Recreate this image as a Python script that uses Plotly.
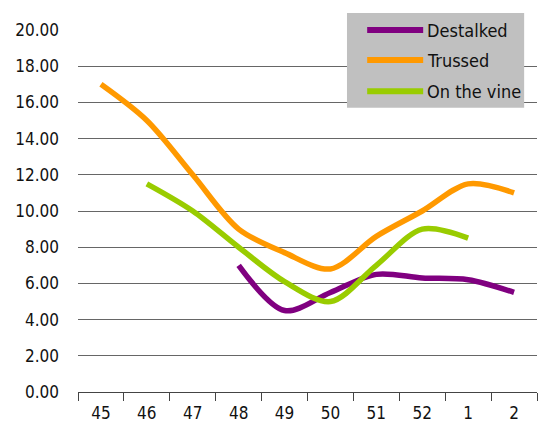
import plotly.graph_objects as go

weeks = ["45", "46", "47", "48", "49", "50", "51", "52", "1", "2"]
destalked = [None, None, None, 7.0, 4.5, 5.5, 6.5, 6.3, 6.2, 5.5]
trussed = [17.0, 15.0, 12.0, 9.0, 7.7, 6.8, 8.6, 10.0, 11.5, 11.0]
on_the_vine = [None, 11.5, 10.0, 8.0, 6.1, 5.0, 7.0, 9.0, 8.5, None]

series = [
    ("Destalked", destalked, "#800080"),
    ("Trussed", trussed, "#FF9900"),
    ("On the vine", on_the_vine, "#99CC00"),
]

font_family = "DejaVu Sans Condensed, Liberation Sans Narrow, sans-serif"

fig = go.Figure()
for name, values, color in series:
    fig.add_trace(go.Scatter(
        x=weeks, y=values, name=name, mode="lines",
        line=dict(color=color, width=5.5, shape="spline", smoothing=0.9),
        connectgaps=False, showlegend=False,
    ))

# Legend panel drawn in paper coordinates (grey box, line swatches, labels)
box = dict(x0=0.586, x1=0.972, y0=0.785, y1=1.047)
fig.add_shape(type="rect", xref="paper", yref="paper", layer="above",
              fillcolor="#C0C0C0", line=dict(width=0), **box)
row_y = [1.0, 0.917, 0.831]
for (name, _, color), yy in zip(series, row_y):
    fig.add_shape(type="line", xref="paper", yref="paper", layer="above",
                  x0=0.630, x1=0.752, y0=yy, y1=yy,
                  line=dict(color=color, width=6))
    fig.add_annotation(xref="paper", yref="paper", x=0.756, y=yy,
                       text=name, showarrow=False, xanchor="left",
                       yanchor="middle",
                       font=dict(family=font_family, size=18, color="#111"))

fig.update_layout(
    width=544, height=428,
    margin=dict(l=78, r=7, t=30, b=36),
    paper_bgcolor="white", plot_bgcolor="white",
    font=dict(family=font_family, size=16, color="#111"),
    showlegend=False,
    xaxis=dict(
        type="category", range=[-0.5, 9.5], showgrid=False, showline=True,
        linecolor="#444", linewidth=1, automargin=False,
        ticks="outside", tickson="boundaries", ticklen=8,
        tickcolor="#444", tickfont=dict(size=17), ticklabelstandoff=6,
    ),
    yaxis=dict(
        range=[0, 20], dtick=2, tickformat=".2f", automargin=False,
        showgrid=True, gridcolor="#666", gridwidth=1,
        zeroline=False, showline=False, ticks="",
        tickfont=dict(size=17), ticklabelstandoff=18,
    ),
    hovermode=False,
)

fig.write_html("out.html")
